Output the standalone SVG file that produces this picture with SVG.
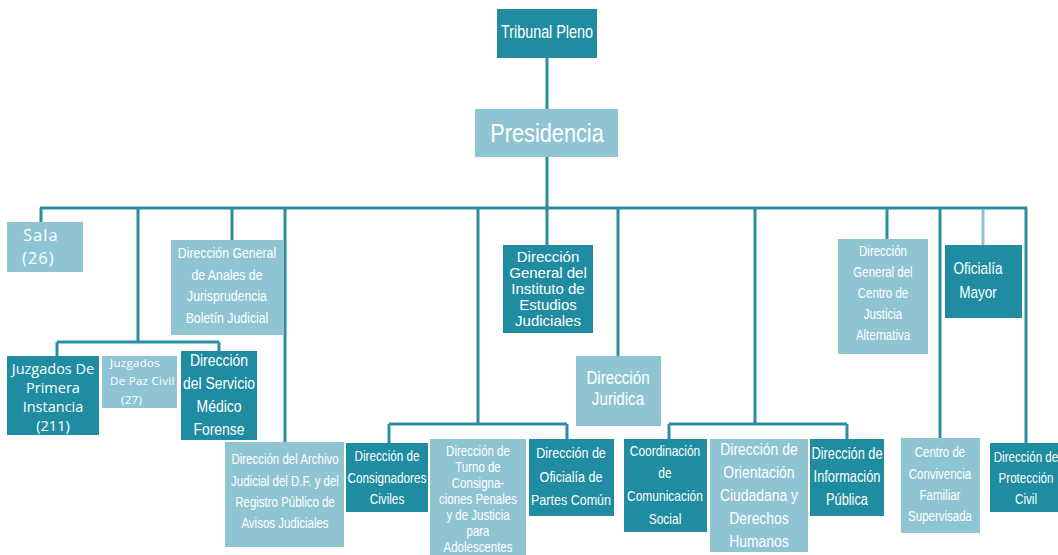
<svg xmlns="http://www.w3.org/2000/svg" width="1058" height="555" viewBox="0 0 1058 555">
<style>
.bg{fill:#ffffff}
.d{fill:#1f8ca2}
.l{fill:#8fc5d2}
.ln{stroke:#2a8fa3;stroke-width:3;fill:none}
.lnl{stroke:#8fc5d2;stroke-width:3;fill:none}
text{fill:#ffffff;font-family:"Liberation Sans",Arial,sans-serif;text-anchor:middle}
.w{font-family:"Open Sans","Noto Sans",sans-serif}
</style>
<rect class="bg" x="0" y="0" width="1058" height="555"/>
<g id="connectors">
<path class="ln" d="M547 58V109M547 157V245M40 208H1027M41 208V222M138 208V342M57 342H219M57 342V356M219 342V351M232 208V240M285 208V442M478 208V424M389 424H567M389 424V443M567 424V439M618 208V356M755 208V424M669 424H847M669 424V439M847 424V439M887 208V239M940 208V438M1026 208V443"/>
<path class="lnl" d="M983 209V245"/>
</g>
<g id="tribunal"><rect class="d" x="497" y="9" width="100" height="49"/><g transform="matrix(0.82 0 0 1 98.46 0)"><text x="547" y="38" font-size="17.5">Tribunal Pleno</text></g></g>
<g id="presidencia"><rect class="l" x="475" y="109" width="143" height="48"/><g transform="matrix(0.82 0 0 1 98.46 0)"><text x="547" y="142" font-size="26.5">Presidencia</text></g></g>
<g id="sala"><rect class="l" x="7" y="222" width="76" height="50"/><text class="w" x="23" y="241" font-size="16.5" letter-spacing="1" style="text-anchor:start">Sala</text><text class="w" x="22" y="264" font-size="16.5" letter-spacing="1" style="text-anchor:start">(26)</text></g>
<g id="anales"><rect class="l" x="171" y="240" width="112" height="95"/><g transform="matrix(0.82 0 0 1 40.86 0)"><text x="227" y="258" font-size="15">Dirección General</text><text x="227" y="280" font-size="15">de Anales de</text><text x="227" y="301" font-size="15">Jurisprudencia</text><text x="227" y="323" font-size="15">Boletín Judicial</text></g></g>
<g id="primera"><rect class="d" x="7" y="356" width="92" height="79"/><text class="w" x="53" y="374" font-size="14.5">Juzgados De</text><text class="w" x="53" y="393" font-size="14.5">Primera</text><text class="w" x="53" y="412" font-size="14.5">Instancia</text><text class="w" x="53" y="431" font-size="14.5">(211)</text></g>
<g id="paz"><rect class="l" x="102" y="356" width="75" height="52"/><text class="w" x="110" y="367" font-size="11.5" letter-spacing="0.3" style="text-anchor:start">Juzgados</text><text class="w" x="110" y="385" font-size="11.5" letter-spacing="0.3" style="text-anchor:start">De Paz Civil</text><text class="w" x="121" y="404" font-size="11.5" letter-spacing="0.3" style="text-anchor:start">(27)</text></g>
<g id="medico"><rect class="d" x="181" y="351" width="76" height="89"/><g transform="matrix(0.82 0 0 1 39.42 0)"><text x="219" y="366" font-size="17">Dirección</text><text x="219" y="389" font-size="17">del Servicio</text><text x="219" y="412" font-size="17">Médico</text><text x="219" y="435" font-size="17">Forense</text></g></g>
<g id="archivo"><rect class="l" x="225" y="442" width="119" height="105"/><g transform="matrix(0.82 0 0 1 51.3 0)"><text x="285" y="464" font-size="14">Dirección del Archivo</text><text x="285" y="486" font-size="14">Judicial del D.F. y del</text><text x="285" y="507" font-size="14">Registro Público de</text><text x="285" y="528" font-size="14">Avisos Judiciales</text></g></g>
<g id="consignadores"><rect class="d" x="346" y="443" width="82" height="69"/><g transform="matrix(0.82 0 0 1 69.66 0)"><text x="387" y="461" font-size="14.3">Dirección de</text><text x="387" y="483" font-size="14.3">Consignadores</text><text x="387" y="504" font-size="14.3">Civiles</text></g></g>
<g id="turno"><rect class="l" x="430" y="439" width="96" height="120"/><g transform="matrix(0.82 0 0 1 86.04 0)"><text x="478" y="456" font-size="14">Dirección de</text><text x="478" y="472" font-size="14">Turno de</text><text x="478" y="488" font-size="14">Consigna-</text><text x="478" y="504" font-size="14">ciones Penales</text><text x="478" y="520" font-size="14">y de Justicia</text><text x="478" y="536" font-size="14">para</text><text x="478" y="552" font-size="14">Adolescentes</text></g></g>
<g id="partes"><rect class="d" x="529" y="439" width="85" height="77"/><g transform="matrix(0.82 0 0 1 102.78 0)"><text x="571" y="458" font-size="15.3">Dirección de</text><text x="571" y="482" font-size="15.3">Oficialía de</text><text x="571" y="505" font-size="15.3">Partes Común</text></g></g>
<g id="instituto"><rect class="d" x="503" y="245" width="90" height="88"/><text x="548" y="262" font-size="15">Dirección</text><text x="548" y="278" font-size="15">General del</text><text x="548" y="294" font-size="15">Instituto de</text><text x="548" y="310" font-size="15">Estudios</text><text x="548" y="326" font-size="15">Judiciales</text></g>
<g id="juridica"><rect class="l" x="576" y="356" width="85" height="70"/><g transform="matrix(0.82 0 0 1 111.24 0)"><text x="618" y="384" font-size="18.5">Dirección</text><text x="618" y="405" font-size="18.5">Juridica</text></g></g>
<g id="comunicacion"><rect class="d" x="624" y="439" width="83" height="93"/><g transform="matrix(0.82 0 0 1 119.7 0)"><text x="665" y="456" font-size="14.6">Coordinación</text><text x="665" y="478" font-size="14.6">de</text><text x="665" y="501" font-size="14.6">Comunicación</text><text x="665" y="524" font-size="14.6">Social</text></g></g>
<g id="orientacion"><rect class="l" x="710" y="439" width="98" height="113"/><g transform="matrix(0.82 0 0 1 136.62 0)"><text x="759" y="455" font-size="17">Dirección de</text><text x="759" y="478" font-size="17">Orientación</text><text x="759" y="501" font-size="17">Ciudadana y</text><text x="759" y="524" font-size="17">Derechos</text><text x="759" y="547" font-size="17">Humanos</text></g></g>
<g id="informacion"><rect class="d" x="810" y="439" width="74" height="77"/><g transform="matrix(0.82 0 0 1 152.46 0)"><text x="847" y="459" font-size="15.6">Dirección de</text><text x="847" y="482" font-size="15.6">Información</text><text x="847" y="505" font-size="15.6">Pública</text></g></g>
<g id="justicia"><rect class="l" x="838" y="239" width="90" height="115"/><g transform="matrix(0.82 0 0 1 158.94 0)"><text x="883" y="256" font-size="14">Dirección</text><text x="883" y="277" font-size="14">General del</text><text x="883" y="298" font-size="14">Centro de</text><text x="883" y="319" font-size="14">Justicia</text><text x="883" y="340" font-size="14">Alternativa</text></g></g>
<g id="mayor"><rect class="d" x="945" y="245" width="77" height="73"/><g transform="matrix(0.82 0 0 1 176.04 0)"><text x="978" y="274" font-size="16.5">Oficialía</text><text x="978" y="298" font-size="16.5">Mayor</text></g></g>
<g id="convivencia"><rect class="l" x="901" y="438" width="79" height="95"/><g transform="matrix(0.82 0 0 1 169.2 0)"><text x="940" y="457" font-size="14">Centro de</text><text x="940" y="479" font-size="14">Convivencia</text><text x="940" y="500" font-size="14">Familiar</text><text x="940" y="521" font-size="14">Supervisada</text></g></g>
<g id="proteccion"><rect class="d" x="990" y="443" width="68" height="69"/><g transform="matrix(0.82 0 0 1 184.68 0)"><text x="1026" y="462" font-size="14.2">Dirección de</text><text x="1026" y="483" font-size="14.2">Protección</text><text x="1026" y="504" font-size="14.2">Civil</text></g></g>
</svg>
